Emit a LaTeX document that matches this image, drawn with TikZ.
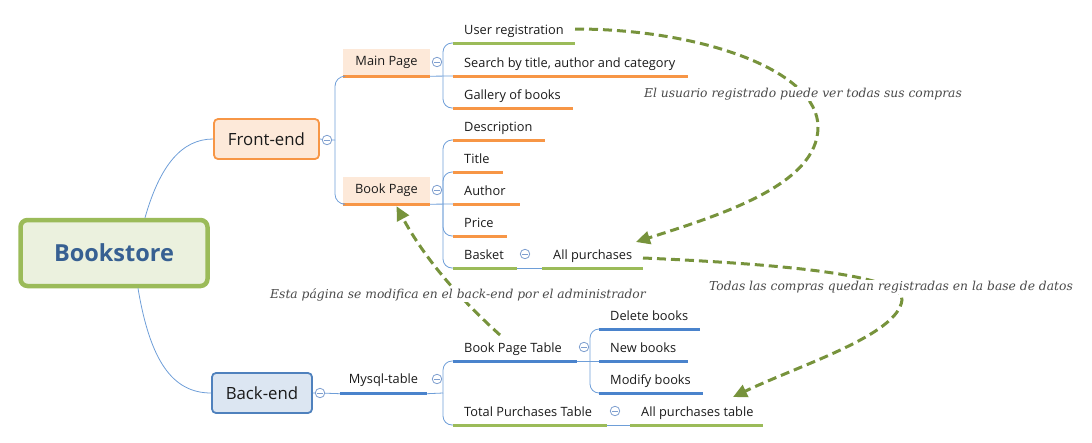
\documentclass[tikz,border=0pt]{standalone}
\usepackage{fontspec}
\setmainfont{Open Sans}
\newfontfamily\notefont{DejaVu Serif}
\usetikzlibrary{arrows.meta}
\definecolor{oline}{HTML}{F79646}
\definecolor{ofill}{HTML}{FDE9D9}
\definecolor{gline}{HTML}{9BBB59}
\definecolor{gfill}{HTML}{EBF1DE}
\definecolor{bline}{HTML}{4A83CC}
\definecolor{bfill}{HTML}{DCE6F2}
\definecolor{bborder}{HTML}{4F81BD}
\definecolor{conncol}{HTML}{6E9ED8}
\definecolor{colcol}{HTML}{7F9FCF}
\definecolor{agreen}{HTML}{77933C}
\definecolor{txt}{HTML}{1A1A1A}
\definecolor{roottxt}{HTML}{376092}
\definecolor{notegray}{HTML}{4A4A4A}
\begin{document}
\begin{tikzpicture}[x=1pt,y=-1pt,
  conn/.style={draw=conncol, line width=0.8pt},
  uline/.style={line width=3pt},
  leaf/.style={anchor=south west, inner xsep=11pt, inner ysep=5pt, text height=9.5pt, text depth=3pt, font=\fontsize{12.8}{14}\selectfont, text=txt},
  midbox/.style={minimum width=87pt, minimum height=27pt, inner sep=0pt, font=\fontsize{12.8}{14}\selectfont, text=txt},
  collapse/.style={circle, draw=colcol, line width=0.8pt, minimum size=9.5pt, inner sep=0pt, fill=white,
    path picture={\draw[colcol, line width=0.8pt] ([xshift=-2.8pt]path picture bounding box.center) -- ([xshift=2.8pt]path picture bounding box.center);}},
  dasharrow/.style={draw=agreen, line width=3pt, dash pattern=on 9pt off 5pt, -{Triangle[length=14pt,width=13pt]}},
  note/.style={font=\notefont\itshape\fontsize{12.3}{14}\selectfont, text=notegray, fill=white, inner sep=1pt}
]
\path[use as bounding box] (0,0) rectangle (1092,442);

% main nodes
\node[draw=gline, fill=gfill, line width=4.5pt, rounded corners=7pt, minimum width=187pt, minimum height=66pt,
  font=\bfseries\fontsize{23.5}{26}\selectfont, text=roottxt] (root) at (114,253) {Bookstore};
\node[draw=oline, fill=ofill, line width=1.8pt, rounded corners=4pt, minimum width=105pt, minimum height=40pt,
  font=\fontsize{16.8}{19}\selectfont, text=txt] (fe) at (266.5,139) {Front-end};
\node[draw=bborder, fill=bfill, line width=1.8pt, rounded corners=4pt, minimum width=100pt, minimum height=40pt,
  font=\fontsize{16.8}{19}\selectfont, text=txt] (be) at (262,393) {Back-end};

% second level
\node[midbox, fill=ofill] (mp) at (386.5,62.5) {Main Page};
\node[midbox, fill=ofill] (bp) at (386.5,190.5) {Book Page};
\node[midbox] (my) at (383.5,380) {Mysql-table};
\draw[uline, draw=oline] (mp.south west) -- (mp.south east);
\draw[uline, draw=oline] (bp.south west) -- (bp.south east);
\draw[uline, draw=bline] (my.south west) -- (my.south east);

% leaves
\node[leaf] (ur) at (453,43) {User registration};
\node[leaf] (sr) at (453,76) {Search by title, author and category};
\node[leaf] (gb) at (453,108) {Gallery of books};
\node[leaf] (de) at (453,140) {Description};
\node[leaf] (ti) at (453,172) {Title};
\node[leaf] (au) at (453,204) {Author};
\node[leaf] (pr) at (453,236) {Price};
\node[leaf] (ba) at (453,268) {Basket};
\node[leaf] (ap) at (542,268) {All purchases};
\node[leaf] (bpt) at (453,361) {Book Page Table};
\node[leaf] (tpt) at (453,425) {Total Purchases Table};
\node[leaf] (apt) at (630,425) {All purchases table};
\node[leaf] (db) at (599,329) {Delete books};
\node[leaf] (nb) at (599,361) {New books};
\node[leaf] (mb) at (599,393) {Modify books};

\draw[uline, draw=gline] (ur.south west) -- +(122,0);
\draw[uline, draw=oline] (sr.south west) -- +(235,0);
\draw[uline, draw=oline] (gb.south west) -- +(120,0);
\draw[uline, draw=oline] (de.south west) -- +(92,0);
\draw[uline, draw=oline] (ti.south west) -- +(50,0);
\draw[uline, draw=oline] (au.south west) -- +(67,0);
\draw[uline, draw=oline] (pr.south west) -- +(54,0);
\draw[uline, draw=gline] (ba.south west) -- +(64,0);
\draw[uline, draw=gline] (ap.south west) -- +(101,0);
\draw[uline, draw=bline] (bpt.south west) -- +(124,0);
\draw[uline, draw=gline] (tpt.south west) -- +(154,0);
\draw[uline, draw=gline] (apt.south west) -- +(133,0);
\draw[uline, draw=bline] (db.south west) -- +(101,0);
\draw[uline, draw=bline] (nb.south west) -- +(89,0);
\draw[uline, draw=bline] (mb.south west) -- +(104,0);

% root connectors
\draw[conn] ([xshift=31pt]root.north) .. controls (160,165) and (182,139) .. (fe.west);
\draw[conn] ([xshift=24pt]root.south) .. controls (150,360) and (172,393) .. (be.west);

% collapse markers
\node[collapse] (c1) at (327,140) {};
\node[collapse] (c2) at (437,62) {};
\node[collapse] (c3) at (437,190) {};
\node[collapse] (c4) at (525,254) {};
\node[collapse] (c5) at (320,393) {};
\node[collapse] (c6) at (437,379) {};
\node[collapse] (c7) at (584,347) {};
\node[collapse] (c8) at (615,411) {};

% branch points
\coordinate (kfe) at (335,140);
\coordinate (kmp) at (443,76);
\coordinate (kbp) at (443,204);
\coordinate (kmy) at (443,393);
\coordinate (kbpt) at (590,361);

\draw[conn] (fe.east) -- (c1) -- (kfe);
\draw[conn, rounded corners=10pt] (kfe) |- (mp.south west);
\draw[conn, rounded corners=10pt] (kfe) |- (bp.south west);

\draw[conn] (mp.south east) -- (sr.south west);
\draw[conn, rounded corners=9pt] (kmp) |- (ur.south west);
\draw[conn, rounded corners=9pt] (kmp) |- (gb.south west);

\draw[conn] (bp.south east) -- (au.south west);
\draw[conn, rounded corners=9pt] (kbp) |- (de.south west);
\draw[conn, rounded corners=9pt] (kbp) |- (ti.south west);
\draw[conn, rounded corners=9pt] (kbp) |- (pr.south west);
\draw[conn, rounded corners=9pt] (kbp) |- (ba.south west);
\draw[conn] ([xshift=64pt]ba.south west) -- (ap.south west);

\draw[conn] (be.east) -- (c5) -- (my.south west);
\draw[conn] (my.south east) -- (kmy);
\draw[conn, rounded corners=9pt] (kmy) |- (bpt.south west);
\draw[conn, rounded corners=9pt] (kmy) |- (tpt.south west);

\draw[conn] ([xshift=124pt]bpt.south west) -- (nb.south west);
\draw[conn, rounded corners=9pt] (kbpt) |- (db.south west);
\draw[conn, rounded corners=9pt] (kbpt) |- (mb.south west);
\draw[conn] ([xshift=154pt]tpt.south west) -- (apt.south west);

% dashed arrows
\coordinate (a1s) at ([shift={(122,-14)}]ur.south west);
\coordinate (a1e) at ([shift={(94,-26)}]ap.south west);
\coordinate (a2s) at ([shift={(101,-10)}]ap.south west);
\coordinate (a2e) at ([shift={(103,-28)}]apt.south west);
\coordinate (a3s) at ([shift={(47,-26)}]bpt.south west);
\coordinate (a3e) at ([shift={(10,2)}]bp.south);

\draw[dasharrow] (a1s) .. controls (700,29) and (818,70) .. (818,127) .. controls (818,185) and (720,215) .. (a1e);
\draw[dasharrow] (a2s) .. controls (780,264) and (905,275) .. (902,300) .. controls (898,335) and (800,365) .. (a2e);
\draw[dasharrow] (a3s) .. controls (450,290) and (420,250) .. (a3e);

% notes
\node[note] (n1) at (803,94) {El usuario registrado puede ver todas sus compras};
\node[note] (n2) at (458,295) {Esta página se modifica en el back-end por el administrador};
\node[note] (n3) at (891,287) {Todas las compras quedan registradas en la base de datos};
\end{tikzpicture}
\end{document}
